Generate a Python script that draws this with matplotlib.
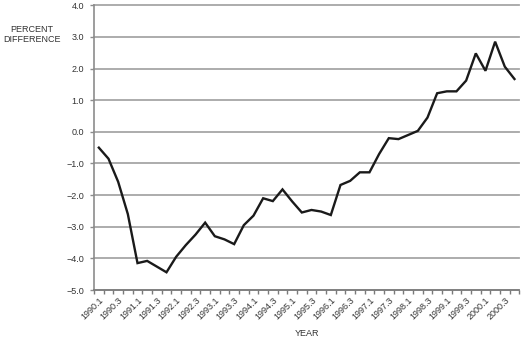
import matplotlib
matplotlib.use("Agg")
import matplotlib.pyplot as plt
import numpy as np

years = list(range(1990, 2001))
quarters = [f"{y}.{q}" for y in years for q in range(1, 5)]
values = [-0.5, -0.85, -1.58, -2.6, -4.15, -4.08, -4.26, -4.44, -3.95, -3.58,
          -3.25, -2.87, -3.3, -3.4, -3.55, -2.95, -2.65, -2.1, -2.19, -1.82,
          -2.2, -2.55, -2.47, -2.52, -2.63, -1.68, -1.55, -1.28, -1.28, -0.7,
          -0.2, -0.23, -0.1, 0.03, 0.45, 1.22, 1.28, 1.28, 1.62, 2.48,
          1.93, 2.85, 2.06, 1.67]
y_ticks = [4.0, 3.0, 2.0, 1.0, 0.0, -1.0, -2.0, -3.0, -4.0, -5.0]

plt.rcParams['font.family'] = ['Liberation Sans', 'DejaVu Sans']

W, H = 521, 342
fig = plt.figure(figsize=(W / 100, H / 100), dpi=100)
left, right, top, bottom = 94, 519.3, 5.3, 290
ax = fig.add_axes([left / W, 1 - bottom / H, (right - left) / W, (bottom - top) / H])

x = np.arange(len(quarters))
ax.set_xlim(-0.5, len(quarters) - 0.5)
ax.set_ylim(-5.0, 4.0)

grid_c = '#a6a6a6'
for yt in y_ticks:
    ax.axhline(yt, color=grid_c, lw=1.3, zorder=1, clip_on=False)

ax.plot(x, values, color='#1a1a1a', lw=1.7, solid_joinstyle='miter', zorder=3)

for s in ['top', 'right']:
    ax.spines[s].set_visible(False)
ax.spines['left'].set_color('#8c8c8c')
ax.spines['left'].set_linewidth(1.2)
ax.spines['bottom'].set_color('#7a7a7a')
ax.spines['bottom'].set_linewidth(1.2)

ax.set_yticks(y_ticks)
ax.set_yticklabels([f"{v:.1f}".replace('-', '\u2212') for v in y_ticks])
ax.tick_params(axis='y', length=3, width=1.0, color='#8c8c8c', pad=4,
               labelsize=6.5, labelcolor='#333333')

ax.set_xticks(np.arange(-0.5, len(quarters), 1.0), minor=True)
ax.set_xticks(x[::2])
ax.set_xticklabels(quarters[::2], rotation=45, ha='right', va='top',
                   rotation_mode='anchor')
ax.tick_params(axis='x', which='major', length=0, pad=4, labelsize=6.5,
               labelcolor='#333333')
ax.tick_params(axis='x', which='minor', length=3, width=1.0, color='#7a7a7a')

fig.text(32 / W, 1 - 29 / H, 'PERCENT', ha='center', va='center',
         fontsize=6.5, color='#333333')
fig.text(32 / W, 1 - 40 / H, 'DIFFERENCE', ha='center', va='center',
         fontsize=6.5, color='#333333')
fig.text(307 / W, 1 - 333 / H, 'YEAR', ha='center', va='center',
         fontsize=6.5, color='#333333')

fig.savefig('out.png', dpi=100)
